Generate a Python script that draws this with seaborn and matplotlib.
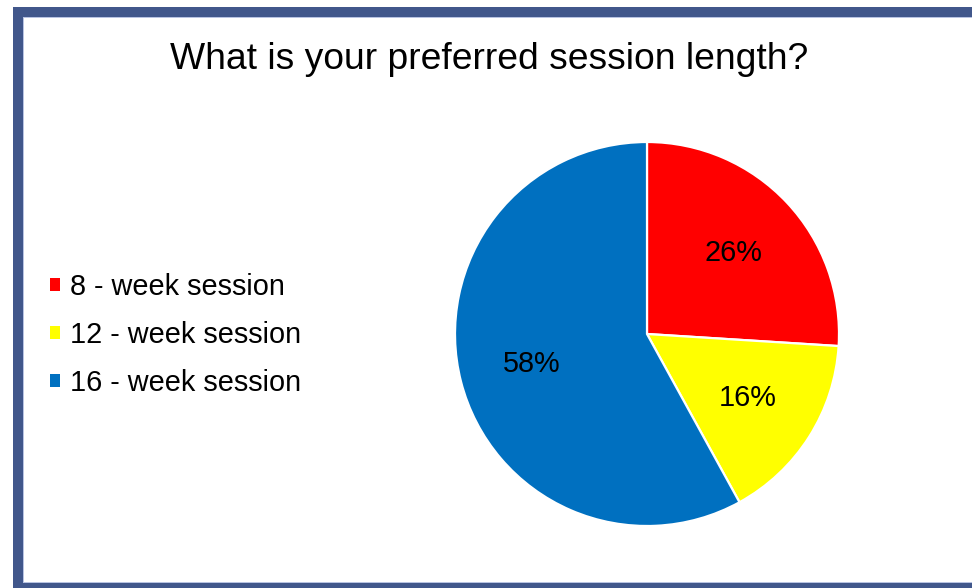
import matplotlib
matplotlib.use("Agg")
import matplotlib.pyplot as plt
from matplotlib.patches import Rectangle
import seaborn as sns

# Survey responses
categories = ["8 - week session", "12 - week session", "16 - week session"]
shares = [26, 16, 58]
colors = ["#FF0000", "#FFFF00", "#0070C0"]
title = "What is your preferred session length?"

sns.set_theme(style="white")
plt.rcParams["font.family"] = ["Liberation Sans", "DejaVu Sans"]
plt.rcParams["text.color"] = "black"
palette = sns.color_palette(colors)

W, H = 972, 588
fig = plt.figure(figsize=(W / 100, H / 100), dpi=100)
fig.patch.set_facecolor("white")

# Frame around the chart area
frame_col = "#41578B"
inner_col = "#B8C3E2"
def px_rect(x0, y0, x1, y1, color, z=10):
    fig.patches.append(Rectangle((x0 / W, 1 - y1 / H), (x1 - x0) / W, (y1 - y0) / H,
                                 transform=fig.transFigure, color=color, lw=0, zorder=z))
px_rect(13, 7, W, 17, frame_col)
px_rect(13, 7, 23, H, frame_col)
px_rect(13, 583, W, H, frame_col)
px_rect(23, 17, W, 18, inner_col, z=9)
px_rect(23, 17, 24, 583, inner_col, z=9)
px_rect(23, 582, W, 583, inner_col, z=9)

# Pie
cx, cy, r = 647, 334, 192
ax = fig.add_axes([(cx - r) / W, 1 - (cy + r) / H, 2 * r / W, 2 * r / H])
wedges, texts, autotexts = ax.pie(
    shares, colors=palette, startangle=90, counterclock=False,
    autopct=lambda p: f"{p:.0f}%", pctdistance=0.62,
    wedgeprops=dict(edgecolor="white", linewidth=1.6),
    textprops=dict(fontsize=20.8, color="black"),
)
ax.set_xlim(-1, 1)
ax.set_ylim(-1, 1)
ax.set_aspect("equal")
ax.axis("off")

fig.text(489 / W, 1 - 69 / H, title, ha="center", va="baseline",
         fontsize=26.8, color="black")

leg = fig.legend(wedges, categories, loc="center left",
                 bbox_to_anchor=(36 / W, 1 - 335 / H), frameon=False,
                 fontsize=20.8, handlelength=0.32, handleheight=0.32,
                 handletextpad=0.35, labelspacing=0.7, borderpad=0)
for h in leg.legend_handles:
    h.set_edgecolor("none")
for t in leg.get_texts():
    t.set_color("black")

fig.savefig("out.png", dpi=100)
